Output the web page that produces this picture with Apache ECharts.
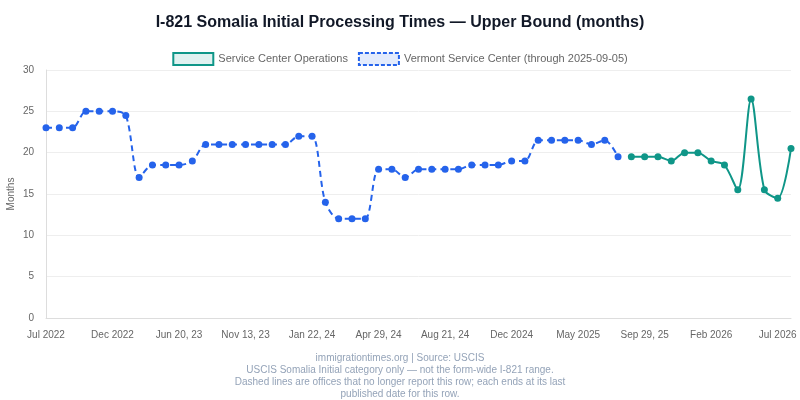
<!DOCTYPE html>
<html>
<head>
<meta charset="utf-8">
<script src="https://cdn.jsdelivr.net/npm/echarts@6/dist/echarts.min.js"></script>
<style>
  html, body { margin: 0; padding: 0; background: #fff; }
  #chart { width: 800px; height: 400px; }
</style>
</head>
<body>
<div id="chart"></div>
<script>
// categories (only every 5th one is shown on the axis)
var categories = [
  'Jul 2022', 'Aug 2022', 'Sep 2022', 'Oct 2022', 'Nov 2022',
  'Dec 2022', 'Jan 2023', 'Feb 2023', 'Mar 2023', 'May 2023',
  'Jun 20, 23', 'Jul 2023', 'Aug 2023', 'Sep 2023', 'Oct 2023',
  'Nov 13, 23', 'Nov 27, 23', 'Dec 11, 23', 'Dec 26, 23', 'Jan 8, 24',
  'Jan 22, 24', 'Feb 5, 24', 'Feb 26, 24', 'Mar 18, 24', 'Apr 8, 24',
  'Apr 29, 24', 'May 20, 24', 'Jun 10, 24', 'Jul 1, 24', 'Jul 31, 24',
  'Aug 21, 24', 'Sep 2024', 'Oct 2024', 'Oct 30, 24', 'Nov 2024',
  'Dec 2024', 'Jan 2025', 'Feb 2025', 'Mar 2025', 'Apr 2025',
  'May 2025', 'Jun 2025', 'Jul 2025', 'Sep 5, 25', 'Sep 15, 25',
  'Sep 29, 25', 'Oct 2025', 'Nov 2025', 'Dec 2025', 'Jan 2026',
  'Feb 2026', 'Mar 2026', 'Apr 2026', 'May 2026', 'Jun 2026',
  'Jul 2026', 'Aug 2026'
];

// Vermont Service Center (dashed, ends 2025-09-05)
var vermontValues = [
  23, 23, 23, 25, 25, 25, 24.5, 17, 18.5, 18.5,
  18.5, 19, 21, 21, 21, 21, 21, 21, 21, 22,
  22, 14, 12, 12, 12, 18, 18, 17, 18, 18,
  18, 18, 18.5, 18.5, 18.5, 19, 19, 21.5, 21.5, 21.5,
  21.5, 21, 21.5, 19.5
];

// Service Center Operations (starts after Vermont stops)
var scoValues = [
  19.5, 19.5, 19.5, 19, 20, 20, 19, 18.5, 15.5, 26.5, 15.5, 14.5, 20.5
];

var seriesNames = ['Service Center Operations', 'Vermont Service Center (through 2025-09-05)'];
var footerLines = [
  'immigrationtimes.org | Source: USCIS',
  'USCIS Somalia Initial category only \u2014 not the form-wide I-821 range.',
  'Dashed lines are offices that no longer report this row; each ends at its last',
  'published date for this row.'
];

var teal = '#0f9688';
var blue = '#2563eb';
var font = '"Liberation Sans", Arial, Helvetica, sans-serif';

// pad the two series onto the shared category axis
var vermontData = [];
var scoData = [];
for (var i = 0; i < categories.length; i++) {
  vermontData.push(i < vermontValues.length ? vermontValues[i] : null);
  var j = i - (categories.length - scoValues.length);
  scoData.push(j >= 0 ? scoValues[j] : null);
}

var chart = echarts.init(document.getElementById('chart'), null, { renderer: 'canvas' });
chart.setOption({
  animation: false,
  textStyle: { fontFamily: font },
  title: {
    text: 'I-821 Somalia Initial Processing Times \u2014 Upper Bound (months)',
    left: 'center',
    top: 10,
    textStyle: { fontSize: 16, fontWeight: 'bold', color: '#111827', fontFamily: font }
  },
  graphic: [{
    type: 'text',
    x: 400,
    y: 352,
    style: {
      text: footerLines.join('\n'),
      align: 'center',
      verticalAlign: 'top',
      fill: '#94a3b8',
      font: '10px ' + font,
      lineHeight: 12
    }
  }],
  legend: {
    top: 47,
    left: 'center',
    itemWidth: 40,
    itemHeight: 12,
    itemGap: 10,
    textStyle: { fontSize: 11, color: '#666', fontFamily: font },
    data: [{
      name: seriesNames[0],
      icon: 'rect',
      itemStyle: { color: 'rgba(15,150,136,0.13)', borderColor: teal, borderWidth: 2 }
    }, {
      name: seriesNames[1],
      icon: 'rect',
      itemStyle: { color: 'rgba(37,99,235,0.13)', borderColor: blue, borderWidth: 2, borderType: [4, 2] }
    }]
  },
  grid: { left: 46, right: 9, top: 70, bottom: 82, outerBoundsMode: 'none' },
  xAxis: {
    type: 'category',
    data: categories,
    boundaryGap: false,
    axisLine: { lineStyle: { color: '#ddd' } },
    axisTick: { show: false },
    axisLabel: { interval: 4, color: '#666', fontSize: 10, margin: 12, hideOverlap: false },
    splitLine: { show: false }
  },
  yAxis: {
    type: 'value',
    min: 0,
    max: 30,
    interval: 5,
    name: 'Months',
    nameLocation: 'middle',
    nameGap: 30,
    nameMoveOverlap: false,
    nameTextStyle: { color: '#666', fontSize: 10 },
    axisLine: { show: true, lineStyle: { color: '#ddd' } },
    axisTick: { show: false },
    axisLabel: { color: '#666', fontSize: 10, margin: 12 },
    splitLine: { lineStyle: { color: '#eeeeee' } }
  },
  series: [{
    name: seriesNames[0],
    type: 'line',
    data: scoData,
    smooth: 0.3,
    symbol: 'circle',
    symbolSize: 7,
    itemStyle: { color: teal },
    lineStyle: { color: teal, width: 2 }
  }, {
    name: seriesNames[1],
    type: 'line',
    data: vermontData,
    smooth: 0.3,
    symbol: 'circle',
    symbolSize: 7,
    itemStyle: { color: blue },
    lineStyle: { color: blue, width: 2, type: [6, 4] }
  }]
});
</script>
</body>
</html>
